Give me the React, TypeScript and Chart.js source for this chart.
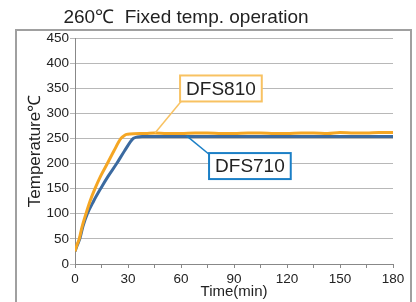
import React, { useEffect, useRef } from "react";
import { Chart, registerables } from "chart.js";

Chart.register(...registerables);

const FONT = '"Liberation Sans", Arial, sans-serif';

const chartTitle = "260℃  Fixed temp. operation";
const xAxisTitle = "Time(min)";
const yAxisTitle = "Temperature℃";

const seriesNames = ["DFS810", "DFS710"];

// DFS810 (orange)
const dfs810Time = [0, 0.5, 1, 2.4, 4, 6.2, 8.5, 11.3, 14.5, 18.3, 22, 26, 28, 29.2, 31, 40, 45, 52, 60, 68, 75, 83, 90, 98, 105, 113, 120, 128, 135, 143, 150, 158, 165, 172, 180];
const dfs810Temp = [25, 31, 37, 50, 74, 100, 125, 150, 175, 200, 225, 250, 256, 258, 259, 260, 261, 260, 260, 261, 261, 260, 260, 261, 261, 260, 260, 261, 261, 260, 262, 261, 261, 262, 262];

// DFS710 (blue)
const dfs710Time = [0, 1, 2.7, 4.5, 7, 10.5, 14.5, 18.8, 23.6, 28, 33, 35.3, 38, 60, 90, 120, 150, 180];
const dfs710Temp = [25, 35, 50, 75, 100, 125, 150, 175, 200, 225, 250, 253, 254, 254, 254, 254, 254, 254];

// Callout labels (data coordinates)
const calloutX = [82.6, 99];
const calloutY = [349.5, 195];
const leaderFromX = [60.6, 63.2];
const leaderFromY = [326, 255];
const leaderToX = [45.3, 76.4];
const leaderToY = [261, 217];

const xMin = 0, xMax = 180, xStep = 15, xLabelStep = 30;
const yMin = 0, yMax = 450, yStep = 50;

const orange = "#f5a623";
const blue = "#3b6aa0";
const calloutBorder = ["#f8c262", "#1b7fc6"];

const overlayPlugin = {
  id: "overlay",
  beforeDraw(chart: any) {
    const ctx = chart.ctx;
    ctx.save();
    ctx.fillStyle = "#ffffff";
    ctx.fillRect(0, 0, chart.width, chart.height);
    ctx.strokeStyle = "#a0a0a0";
    ctx.lineWidth = 2;
    ctx.strokeRect(16, 30, 395, 300);
    ctx.font = `19px ${FONT}`;
    ctx.fillStyle = "#222222";
    ctx.textAlign = "center";
    ctx.textBaseline = "alphabetic";
    ctx.fillText(chartTitle, 186, 23);
    ctx.restore();
  },
  afterDatasetsDraw(chart: any) {
    const ctx = chart.ctx;
    const xs = chart.scales.x;
    const ys = chart.scales.y;
    ctx.save();
    for (let i = 0; i < seriesNames.length; i++) {
      ctx.strokeStyle = calloutBorder[i];
      ctx.lineWidth = 1.5;
      ctx.beginPath();
      ctx.moveTo(xs.getPixelForValue(leaderFromX[i]), ys.getPixelForValue(leaderFromY[i]));
      ctx.lineTo(xs.getPixelForValue(leaderToX[i]), ys.getPixelForValue(leaderToY[i]));
      ctx.stroke();
    }
    ctx.font = `19px ${FONT}`;
    ctx.textAlign = "center";
    ctx.textBaseline = "middle";
    for (let i = 0; i < seriesNames.length; i++) {
      const cx = xs.getPixelForValue(calloutX[i]);
      const cy = ys.getPixelForValue(calloutY[i]);
      const w = ctx.measureText(seriesNames[i]).width + 12;
      const h = 26;
      ctx.fillStyle = "#ffffff";
      ctx.fillRect(cx - w / 2, cy - h / 2, w, h);
      ctx.strokeStyle = calloutBorder[i];
      ctx.lineWidth = 2;
      ctx.strokeRect(cx - w / 2, cy - h / 2, w, h);
      ctx.fillStyle = "#222222";
      ctx.fillText(seriesNames[i], cx, cy + 1);
    }
    ctx.restore();
  },
};

export default function App() {
  const ref = useRef<HTMLCanvasElement | null>(null);

  useEffect(() => {
    document.body.style.margin = "0";
    const canvas = ref.current;
    if (!canvas) return;
    const chart = new Chart(canvas, {
      type: "line",
      data: {
        datasets: [
          {
            label: seriesNames[0],
            data: dfs810Time.map((t, i) => ({ x: t, y: dfs810Temp[i] })),
            borderColor: orange,
            backgroundColor: orange,
            borderWidth: 3,
            pointRadius: 0,
            cubicInterpolationMode: "monotone",
          },
          {
            label: seriesNames[1],
            data: dfs710Time.map((t, i) => ({ x: t, y: dfs710Temp[i] })),
            borderColor: blue,
            backgroundColor: blue,
            borderWidth: 3,
            pointRadius: 0,
            cubicInterpolationMode: "monotone",
          },
        ],
      },
      options: {
        animation: false,
        responsive: false,
        maintainAspectRatio: false,
        layout: { padding: { top: 38, right: 23, bottom: 0, left: 0 } },
        plugins: {
          legend: { display: false },
          tooltip: { enabled: false },
          title: { display: false },
        },
        scales: {
          x: {
            type: "linear",
            min: xMin,
            max: xMax,
            afterFit: (s: any) => {
              s.height = 38;
            },
            ticks: {
              stepSize: xStep,
              autoSkip: false,
              maxRotation: 0,
              padding: 3,
              color: "#222222",
              font: { family: FONT, size: 13.5 },
              callback: (v: any) => (Number(v) % xLabelStep === 0 ? String(v) : ""),
            },
            grid: { drawOnChartArea: false, drawTicks: true, tickLength: 4, color: "#888888" },
            border: { color: "#888888", width: 1 },
            title: {
              display: true,
              text: xAxisTitle,
              color: "#222222",
              font: { family: FONT, size: 15 },
              padding: { top: 0, bottom: 1 },
            },
          },
          y: {
            min: yMin,
            max: yMax,
            afterFit: (s: any) => {
              s.width = 75;
            },
            ticks: {
              stepSize: yStep,
              padding: 1,
              color: "#222222",
              font: { family: FONT, size: 13.5 },
            },
            grid: { color: "#b8b8b8", tickLength: 5 },
            border: { color: "#888888", width: 1 },
            title: {
              display: true,
              text: yAxisTitle,
              color: "#222222",
              font: { family: FONT, size: 17 },
              padding: { top: 25, bottom: 0 },
            },
          },
        },
      },
      plugins: [overlayPlugin],
    } as any);
    return () => chart.destroy();
  }, []);

  return (
    <div style={{ width: 416, height: 302 }}>
      <canvas ref={ref} width={416} height={302} style={{ display: "block", width: 416, height: 302 }} />
    </div>
  );
}
